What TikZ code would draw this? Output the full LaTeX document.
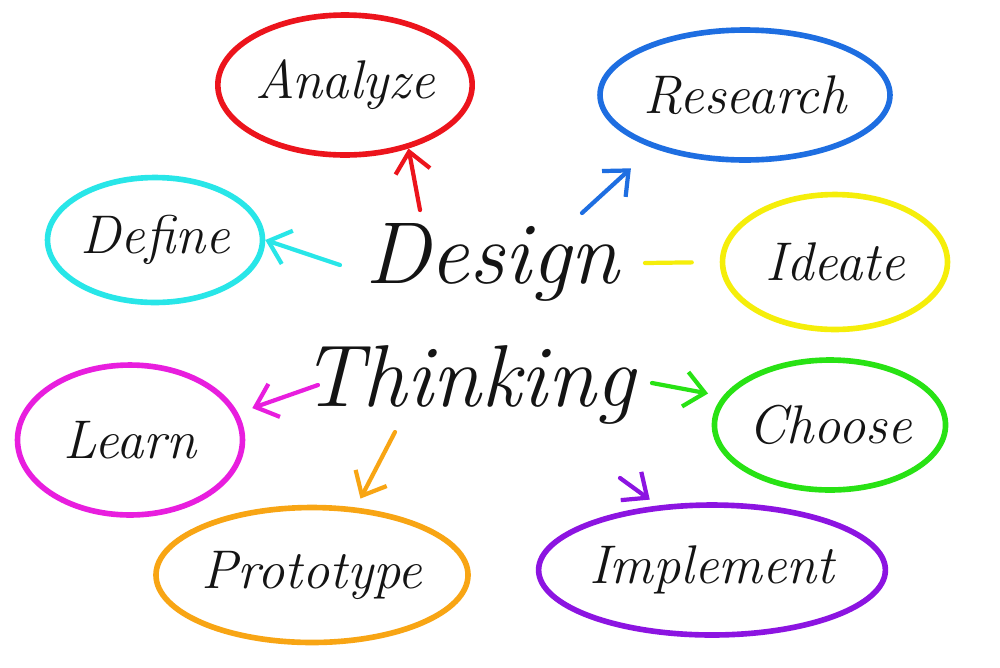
\documentclass[tikz,border=0pt]{standalone}
\usepackage[dvipsnames]{xcolor}
\definecolor{ink}{RGB}{20,20,20}
\definecolor{cred}{RGB}{236,20,28}
\definecolor{cblue}{RGB}{30,110,225}
\definecolor{ccyan}{RGB}{40,230,232}
\definecolor{cyellow}{RGB}{245,238,10}
\definecolor{cmagenta}{RGB}{232,30,222}
\definecolor{cgreen}{RGB}{40,226,20}
\definecolor{corange}{RGB}{248,165,20}
\definecolor{cpurple}{RGB}{140,20,225}
\usepackage{tikz}
\usetikzlibrary{shapes.geometric,arrows.meta,positioning}

\begin{document}
\begin{tikzpicture}[x=0.02cm,y=-0.02cm,
  bubble/.style={ellipse,draw,line width=3.2pt,inner sep=0pt,
                 text=ink,font=\fontsize{31}{35}\selectfont\itshape},
  title/.style={text=ink,font=\fontsize{50}{56}\selectfont\itshape},
  arr/.style={-{Straight Barb[length=4mm,width=7mm]},line width=2.4pt,line cap=round}
]
  \useasboundingbox[fill=white] (0,0) rectangle (1000,667);

  % centre words
  \node[title] (design) at (492,262) {Design};
  \node[title] (think) at (468,385) {Thinking};

  % the eight steps
  \node[bubble,draw=cred,minimum width=5cm,minimum height=2.8cm] (analyze) at (345,85) {Analyze};
  \node[bubble,draw=cblue,minimum width=5.8cm,minimum height=2.6cm] (research) at (745,95) {Research};
  \node[bubble,draw=ccyan,minimum width=4.3cm,minimum height=2.5cm] (define) at (155,240) {Define};
  \node[bubble,draw=cyellow,minimum width=4.5cm,minimum height=2.7cm] (ideate) at (835,262) {Ideate};
  \node[bubble,draw=cmagenta,minimum width=4.5cm,minimum height=3cm] (learn) at (130,440) {Learn};
  \node[bubble,draw=cgreen,minimum width=3.9cm,minimum height=2.6cm] (choose) at (830,425) {Choose};
  \node[bubble,draw=corange,minimum width=5.2cm,minimum height=2.7cm] (proto) at (312,575) {Prototype};
  \node[bubble,draw=cpurple,minimum width=6.4cm,minimum height=2.6cm] (implement) at (712,570) {Implement};

  % free ends of the arrows
  \coordinate (sA) at (420,210);
  \coordinate (sR) at (582,213);
  \coordinate (sD) at (340,265);
  \coordinate (sI) at (645,263);
  \coordinate (sL) at (318,385);
  \coordinate (sC) at (652,383);
  \coordinate (sP) at (395,432);
  \coordinate (sM) at (620,478);

  \draw[arr,cred] (sA) -- (analyze.-45);
  \draw[arr,cblue,shorten >=0.6cm] (sR) -- (research.-150);
  \draw[arr,ccyan] (sD) -- (define.east);
  \draw[line width=2.4pt,line cap=round,cyellow,shorten >=0.56cm] (sI) -- (ideate.west);
  \draw[arr,cmagenta,shorten >=0.3cm] (sL) -- (learn.14);
  \draw[arr,cgreen,shorten >=0.3cm] (sC) -- (choose.165);
  \draw[arr,corange,shorten >=0.2cm] (sP) -- (proto.57);
  \draw[arr,cpurple,shorten >=0.2cm] (sM) -- (implement.130);
\end{tikzpicture}
\end{document}
